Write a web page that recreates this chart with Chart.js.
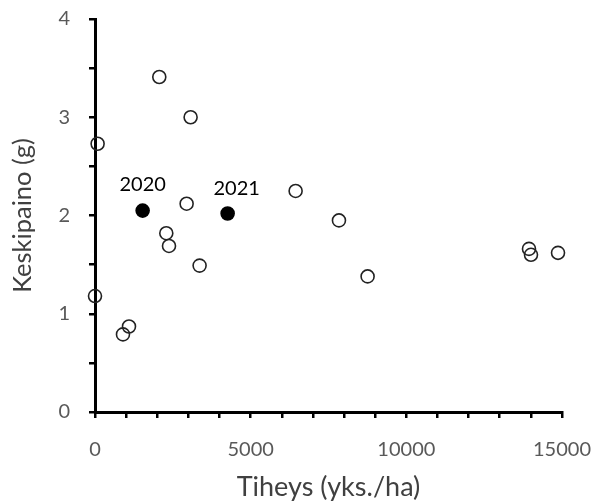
<!DOCTYPE html>
<html><head><meta charset="utf-8">
<script src="https://cdn.jsdelivr.net/npm/chart.js@4/dist/chart.umd.min.js"></script>
<style>html,body{margin:0;padding:0;background:#fff}</style>
</head><body>
<canvas id="c" width="596" height="504"></canvas>
<script>
// Open circles: density (yks./ha) and mean weight (g)
const openX = [2065, 3071, 84, 2943, 6444, 7836, 2290, 2377, 3360, 8756, 0, 1092, 899, 13940, 14004, 14872];
const openY = [3.41, 3.00, 2.73, 2.12, 2.25, 1.95, 1.82, 1.69, 1.49, 1.38, 1.18, 0.87, 0.79, 1.66, 1.60, 1.62];
// Filled circles: years 2020 and 2021
const filledX = [1530, 4260];
const filledY = [2.05, 2.02];
const yearLabels = ['2020', '2021'];
const xTickLabels = [0, 5000, 10000, 15000];
const yTickLabels = [0, 1, 2, 3, 4];

const labelOffsets = [[0, -26], [9, -25]];

const yearLabelPlugin = {
  id: 'yearLabels',
  afterDatasetsDraw(chart) {
    const ctx = chart.ctx;
    const xs = chart.scales.x, ys = chart.scales.y;
    ctx.save();
    ctx.font = '20px Lato';
    ctx.fillStyle = '#000';
    ctx.textAlign = 'center';
    ctx.textBaseline = 'middle';
    yearLabels.forEach((t, i) => {
      const px = xs.getPixelForValue(filledX[i]) + labelOffsets[i][0];
      const py = ys.getPixelForValue(filledY[i]) + labelOffsets[i][1];
      ctx.fillText(t, px, py);
    });
    ctx.restore();
  }
};

const tickFont = {family: 'Lato', size: 20};

new Chart(document.getElementById('c'), {
  type: 'scatter',
  data: {
    datasets: [
      {
        data: openX.map((x, i) => ({x, y: openY[i]})),
        pointRadius: 6.5, pointHoverRadius: 6.5,
        pointBorderWidth: 1.6, borderColor: '#222', pointBorderColor: '#222',
        backgroundColor: 'rgba(0,0,0,0)', pointBackgroundColor: 'rgba(0,0,0,0)',
        clip: false
      },
      {
        data: filledX.map((x, i) => ({x, y: filledY[i]})),
        pointRadius: 6.5, pointHoverRadius: 6.5,
        pointBorderWidth: 1.6, borderColor: '#000', pointBorderColor: '#000',
        backgroundColor: '#000', pointBackgroundColor: '#000',
        clip: false
      }
    ]
  },
  options: {
    responsive: false,
    animation: false,
    events: [],
    layout: {padding: {left: 0, right: 34, top: 19, bottom: 0}},
    plugins: {legend: {display: false}, tooltip: {enabled: false}},
    scales: {
      x: {
        type: 'linear', min: 0, max: 15000,
        afterFit: s => { s.height = 92; s.paddingLeft = 0; s.paddingRight = 0; },
        ticks: {
          stepSize: 1000, autoSkip: false, maxRotation: 0,
          font: tickFont, color: '#595959', padding: 20,
          callback: v => xTickLabels.includes(v) ? String(v) : ''
        },
        grid: {display: true, drawOnChartArea: false, drawTicks: true, tickLength: 6, color: '#000', lineWidth: 2.5},
        border: {display: true, color: '#000', width: 3},
        title: {display: true, text: 'Tiheys (yks./ha)', font: {family: 'Lato', size: 27}, color: '#404040', padding: {top: 0, bottom: 1}}
      },
      y: {
        type: 'linear', min: 0, max: 4,
        afterFit: s => { s.width = 95; s.paddingTop = 0; s.paddingBottom = 0; },
        ticks: {
          stepSize: 0.5, autoSkip: false,
          font: tickFont, color: '#595959', padding: 19,
          callback: v => yTickLabels.includes(v) ? String(v) : ''
        },
        grid: {display: true, drawOnChartArea: false, drawTicks: true, tickLength: 6, color: '#000', lineWidth: 2.5},
        border: {display: true, color: '#000', width: 3},
        title: {display: true, text: 'Keskipaino (g)', font: {family: 'Lato', size: 25.5}, color: '#404040', padding: {top: 7, bottom: 0}}
      }
    }
  },
  plugins: [yearLabelPlugin]
});
</script>
</body></html>
